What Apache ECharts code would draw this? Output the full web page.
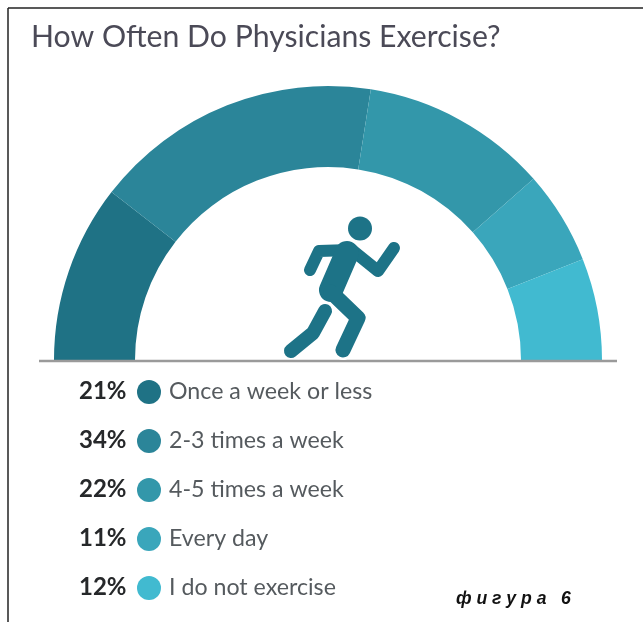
<!DOCTYPE html>
<html><head><meta charset="utf-8">
<style>html,body{margin:0;padding:0;background:#fff}#c{width:643px;height:622px}</style>
<script src="https://cdn.jsdelivr.net/npm/echarts@6/dist/echarts.min.js"></script>
</head><body><div id="c"></div>
<script>
const categories = ['Once a week or less','2-3 times a week','4-5 times a week','Every day','I do not exercise'];
const shares = [21,34,22,11,12];
const colors = ['#1f7285','#2b8599','#3397aa','#3aa6bb','#41bad0'];
const titleText = 'How Often Do Physicians Exercise?';
const figureText = 'ф и г у р а   6';

const runnerColor = '#1d7387';
const stroke = (points, w, color, z) => ({type:'polyline', z:z||10, silent:true,
  shape:{points}, style:{stroke:color||runnerColor, lineWidth:w, lineCap:'round', lineJoin:'round', fill:null}});

const frontLeg = [[331,292],[358,318],[343,350]];
const chart = echarts.init(document.getElementById('c'), null, {renderer:'canvas'});
chart.setOption({
  animation:false,
  backgroundColor:'#fff',
  title:{text:titleText, left:26, top:17,
    textStyle:{fontFamily:'Lato', fontWeight:'normal', fontSize:30.2, color:'#4b4a57'}},
  legend:{orient:'vertical', left:132, top:375, icon:'circle', itemWidth:24, itemHeight:25, itemGap:25,
    selectedMode:false, data:categories,
    textStyle:{fontFamily:'Lato', fontSize:23.2, color:'#555a5e', padding:[0,0,0,3]}},
  series:[{type:'pie', center:[328,360], radius:[193,274], startAngle:180, endAngle:360, clockwise:true,
    silent:true, label:{show:false}, labelLine:{show:false},
    data:categories.map((name,i)=>({name, value:shares[i], itemStyle:{color:colors[i]}}))}],
  graphic:[
    {type:'line', silent:true, shape:{x1:8,y1:8,x2:643,y2:8}, style:{stroke:'#222',lineWidth:1.5}},
    {type:'line', silent:true, shape:{x1:8,y1:8,x2:8,y2:622}, style:{stroke:'#222',lineWidth:1.5}},
    {type:'line', silent:true, z:5, shape:{x1:39,y1:361,x2:617,y2:361}, style:{stroke:'#9a9a9a',lineWidth:2.5}},
    {type:'circle', silent:true, z:10, shape:{cx:360,cy:228.5,r:12}, style:{fill:runnerColor}},
    stroke([[325,311],[313,333],[291,351]],14),
    stroke(frontLeg,20,'#fff',11),
    stroke([[350,250],[319,251],[310,270]],12,null,12),
    stroke([[352,250],[378,271],[394,248]],12,null,12),
    stroke([[347,253],[331,290]],24,null,12),
    stroke(frontLeg,15,null,12),
    ...shares.map((v,i)=>({type:'text', silent:true, left:79, top:379+49*i,
      style:{text:v+'%', fontFamily:'Lato', fontWeight:'bold', fontSize:24, fill:'#26282a'}})),
    {type:'text', silent:true, left:456, top:590,
      style:{text:figureText, fontFamily:'Liberation Sans', fontStyle:'italic', fontWeight:'bold', fontSize:17.6, fill:'#111'}}
  ]
});
</script></body></html>
